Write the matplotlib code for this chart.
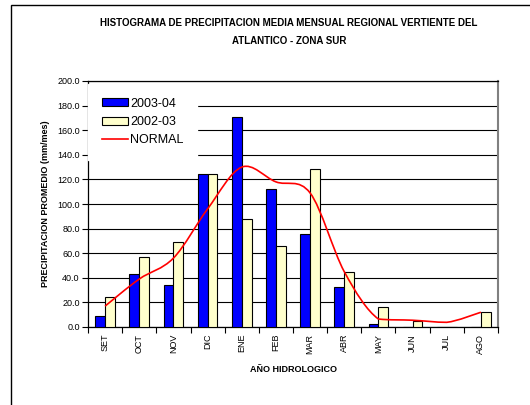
import numpy as np
import matplotlib.pyplot as plt
from matplotlib.path import Path
from matplotlib.patches import PathPatch, Patch, Rectangle
from matplotlib.lines import Line2D

plt.rcParams['font.family'] = ['Liberation Sans', 'DejaVu Sans']

# data (mm/mes)
months = ["SET", "OCT", "NOV", "DIC", "ENE", "FEB", "MAR", "ABR", "MAY", "JUN", "JUL", "AGO"]
p_2003_04 = [8.7, 43.4, 34.0, 124.5, 170.5, 112.0, 75.5, 32.5, 2.5, 0.0, 0.0, 0.0]
p_2002_03 = [24.5, 57.0, 69.0, 124.0, 88.0, 66.0, 128.5, 44.5, 16.5, 4.5, 0.0, 12.5]
normal = [17.0, 39.0, 56.0, 96.0, 130.0, 118.0, 109.0, 45.0, 6.5, 5.5, 3.8, 12.0]

fig = plt.figure(figsize=(5.3, 4.05), dpi=100)
ax = fig.add_axes([88 / 530, 1 - 327 / 405, 410 / 530, 246 / 405])

x = np.arange(len(months))
w = 0.29
ax.bar(x - w / 2, p_2003_04, width=w, color="#0000FF", edgecolor="black", linewidth=0.8, zorder=3)
ax.bar(x + w / 2, p_2002_03, width=w, color="#FFFFCC", edgecolor="black", linewidth=0.8, zorder=3)

# smoothed line (catmull-rom -> bezier, like excel's smoothed line)
pts = np.column_stack([x, normal]).astype(float)
verts = [pts[0]]
codes = [Path.MOVETO]
for i in range(len(pts) - 1):
    p0 = pts[i - 1] if i > 0 else pts[i]
    p1, p2 = pts[i], pts[i + 1]
    p3 = pts[i + 2] if i + 2 < len(pts) else pts[i + 1]
    c1 = p1 + (p2 - p0) / 6
    c2 = p2 - (p3 - p1) / 6
    lo = min(p1[1], p2[1])
    c1[1] = max(c1[1], lo)
    c2[1] = max(c2[1], lo)
    verts += [c1, c2, p2]
    codes += [Path.CURVE4] * 3
ax.add_patch(PathPatch(Path(verts, codes), facecolor="none", edgecolor="#FF0000", linewidth=1.2, zorder=4))

ax.set_xlim(-0.5, 11.5)
ax.set_ylim(0, 200)
ax.set_yticks(np.arange(0, 201, 20))
ax.set_yticklabels([f"{v:.1f}" for v in np.arange(0, 201, 20)], fontsize=6.5)
ax.set_xticks(x)
ax.set_xticklabels(months, rotation=90, fontsize=6.5)
ax.tick_params(axis="x", which="major", length=0, pad=5)
ax.set_xticks(np.arange(-0.5, 12, 1), minor=True)
ax.tick_params(axis="x", which="minor", length=4, width=0.8, direction="out")
ax.tick_params(axis="y", length=4, width=0.8, direction="out", pad=2)
ax.grid(axis="y", color="black", linewidth=0.8, zorder=0)
ax.set_axisbelow(True)
for s in ["left", "bottom", "top"]:
    ax.spines[s].set_linewidth(0.9)
ax.spines["right"].set_color("#808080")
ax.spines["right"].set_linewidth(1.5)

ax.set_ylabel("PRECIPITACION PROMEDIO (mm/mes)", fontsize=6.5, fontweight="bold", labelpad=5)
ax.set_xlabel("AÑO HIDROLOGICO", fontsize=6.5, fontweight="bold", labelpad=8)
fig.text(0.545, 1 - 32.5 / 405, "HISTOGRAMA DE PRECIPITACION MEDIA MENSUAL REGIONAL VERTIENTE DEL\nATLANTICO - ZONA SUR",
         ha="center", va="center", fontsize=7, fontweight="bold", linespacing=2.0)

handles = [Patch(facecolor="#0000FF", edgecolor="black", linewidth=0.8),
           Patch(facecolor="#FFFFCC", edgecolor="black", linewidth=0.8),
           Line2D([], [], color="#FF0000", linewidth=1.2)]
leg = ax.legend(handles, ["2003-04", "2002-03", "NORMAL"], loc="upper left",
                bbox_to_anchor=(0.0, 1 - 3 / 246), fontsize=9, frameon=True, fancybox=False,
                edgecolor="white", facecolor="white", framealpha=1, borderaxespad=0,
                handlelength=2.1, handleheight=0.6, handletextpad=0.15, labelspacing=0.5, borderpad=1.1)
leg.set_zorder(5)

# outer frame of the chart object
fig.patches.append(Rectangle((11 / 530, -0.1), 1.2, 1 - 5 / 405 + 0.1, transform=fig.transFigure,
                             fill=False, edgecolor="black", linewidth=1.0))

fig.savefig("out.png", dpi=100)
